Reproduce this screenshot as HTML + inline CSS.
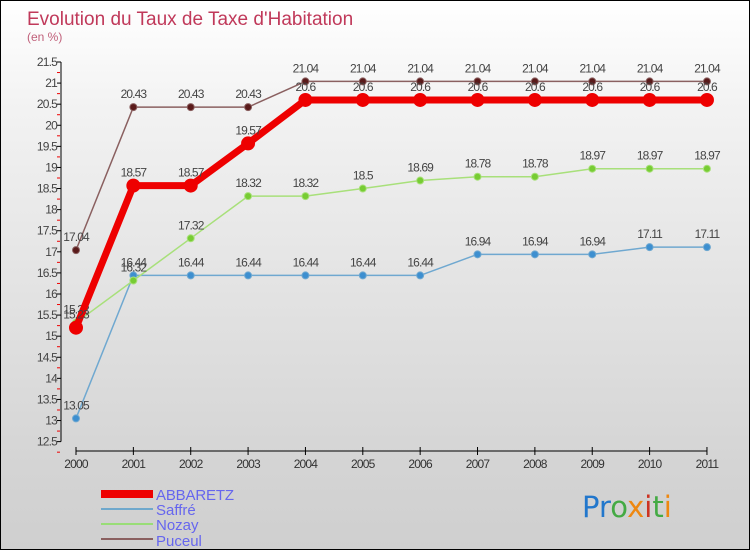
<!DOCTYPE html>
<html><head><meta charset="utf-8"><style>
body{margin:0}
#c{width:748px;height:548px;border:1px solid #000;background:linear-gradient(#fff,#f2f2f2 20%,#d4d4d4 85%,#cfcfcf);position:relative;font-family:"Liberation Sans",sans-serif;overflow:hidden}
</style></head><body>
<div id="c">
<svg width="748" height="548" id="s">
<text x="26" y="24" font-size="19" fill="#c0395a">Evolution du Taux de Taxe d'Habitation</text>
<text x="26" y="40" font-size="12" fill="#c0607a">(en %)</text>
<g id="ax"></g><g id="ser"></g>
<g>
<rect x="100" y="489" width="52" height="8" fill="#ee0000"/>
<text x="155" y="499" font-size="15" fill="#6666ee" textLength="78">ABBARETZ</text>
<line x1="100" y1="508" x2="152" y2="508" stroke="#6fa8cc" stroke-width="2"/>
<text x="155" y="514" font-size="15" fill="#6666ee">Saffré</text>
<line x1="100" y1="523" x2="152" y2="523" stroke="#99dd77" stroke-width="2"/>
<text x="155" y="529" font-size="15" fill="#6666ee">Nozay</text>
<line x1="100" y1="538" x2="152" y2="538" stroke="#8a6060" stroke-width="2"/>
<text x="155" y="545" font-size="15" fill="#6666ee">Puceul</text>
</g>
<text x="581" y="516" font-size="29" font-family="DejaVu Sans"><tspan fill="#2277cc">Pr</tspan><tspan fill="#44aa44">o</tspan><tspan fill="#ee8811">x</tspan><tspan fill="#cc3322">i</tspan><tspan fill="#44aa44">t</tspan><tspan fill="#ee8811">i</tspan></text>
</svg></div>
<script>
const years=[2000,2001,2002,2003,2004,2005,2006,2007,2008,2009,2010,2011];
const abbaretz=[15.2,18.57,18.57,19.57,20.6,20.6,20.6,20.6,20.6,20.6,20.6,20.6];
const abbaretzLabels=["15.23","18.57","18.57","19.57","20.6","20.6","20.6","20.6","20.6","20.6","20.6","20.6"];
const saffre=[13.05,16.44,16.44,16.44,16.44,16.44,16.44,16.94,16.94,16.94,17.11,17.11];
const nozay=[15.32,16.32,17.32,18.32,18.32,18.5,18.69,18.78,18.78,18.97,18.97,18.97];
const puceul=[17.04,20.43,20.43,20.43,21.04,21.04,21.04,21.04,21.04,21.04,21.04,21.04];
const yTicks=[12.5,13,13.5,14,14.5,15,15.5,16,16.5,17,17.5,18,18.5,19,19.5,20,20.5,21,21.5];
const NS="http://www.w3.org/2000/svg";
const X=i=>75+i*57.36, Y=v=>61+(21.5-v)*42.18;
function mk(p,t,a){const e=document.createElementNS(NS,t);for(const k in a)e.setAttribute(k,a[k]);p.appendChild(e);return e;}
const ax=document.getElementById('ax'),ser=document.getElementById('ser');
mk(ax,'line',{x1:60,y1:Y(21.5),x2:60,y2:Y(12.5),stroke:'#000'});
mk(ax,'line',{x1:X(0),y1:450,x2:X(11),y2:450,stroke:'#000'});
yTicks.forEach(v=>{mk(ax,'line',{x1:56,y1:Y(v),x2:60,y2:Y(v),stroke:'#000'});
 mk(ax,'line',{x1:56,y1:Y(v-0.25),x2:59,y2:Y(v-0.25),stroke:'#e00'});
 const t=mk(ax,'text',{x:56,y:Y(v)+4,'font-size':12,fill:'#444','text-anchor':'end','letter-spacing':'-0.8'});t.textContent=v;
 
 });
years.forEach((y,i)=>{mk(ax,'line',{x1:X(i),y1:446,x2:X(i),y2:454,stroke:'#000'});
 const t=mk(ax,'text',{x:X(i),y:467,'font-size':12,fill:'#333','text-anchor':'middle','letter-spacing':'-0.8'});t.textContent=y;
 
 });
function series(name,vals,labels,col,dot,w,r){
 const g=mk(ser,'g',{});
 
 
 mk(g,'polyline',{points:vals.map((v,i)=>X(i)+','+Y(v)).join(' '),fill:'none',stroke:col,'stroke-width':w,'stroke-linejoin':'round'});
 vals.forEach((v,i)=>{const c=mk(g,'circle',{cx:X(i),cy:Y(v),r:r,fill:dot,stroke:col,'stroke-width':1});
  
  
  const t=mk(g,'text',{x:X(i),y:Y(v)-9,'font-size':12,fill:'#444','text-anchor':'middle','letter-spacing':'-0.9'});t.textContent=labels?labels[i]:v;});
}
series('saffre',saffre,null,'#6fa8d0','#3d8fd0',1.5,3.5);
series('nozay',nozay,null,'#a8e07a','#77cc33',1.5,3.5);
series('puceul',puceul,null,'#8a6060','#5a1a1a',1.5,3.5);
series('abbaretz',abbaretz,abbaretzLabels,'#ee0000','#ee0000',7,6.5);
</script>
</body></html>
